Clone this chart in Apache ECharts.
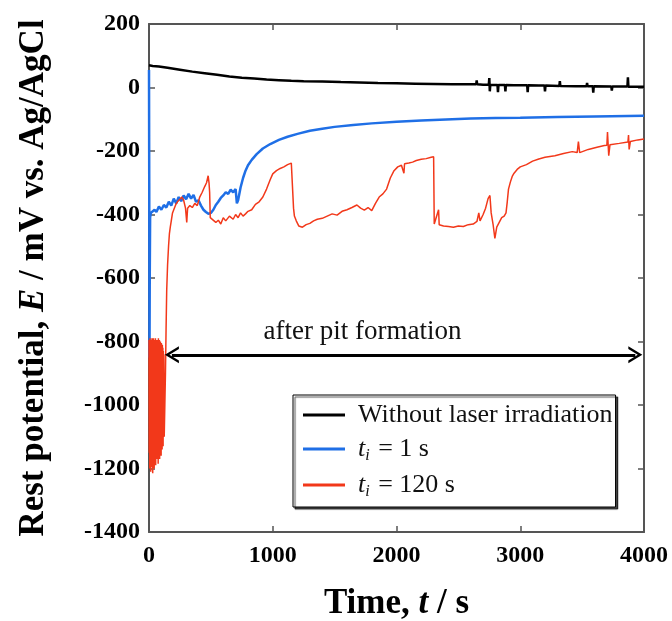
<!DOCTYPE html>
<html>
<head>
<meta charset="utf-8">
<script src="https://cdn.jsdelivr.net/npm/echarts@6/dist/echarts.min.js"></script>
<style>
  html, body { margin: 0; padding: 0; background: #fff; }
  #chart { width: 672px; height: 621px; }
</style>
</head>
<body>
<div id="chart"></div>
<script>
var xTicks = [0, 1000, 2000, 3000, 4000];
var yTicks = [-1400, -1200, -1000, -800, -600, -400, -200, 0, 200];

// [time s, potential mV]
var noLaser = [
    [0, 70], [30, 68], [80, 66], [150, 62], [250, 56], [350, 50], [450, 45], [550, 40],
    [650, 35], [750, 31], [850, 28], [950, 25], [1050, 23], [1150, 21], [1250, 20],
    [1400, 19], [1550, 17], [1700, 16], [1850, 14], [2000, 13], [2150, 12], [2300, 11],
    [2450, 10], [2600, 10], [2644, 10], [2648, 22], [2652, 10], [2700, 9], [2746, 9],
    [2750, 30], [2754, -12], [2758, 9], [2816, 8], [2820, -15], [2824, 8], [2876, 8],
    [2880, -12], [2884, 8], [2950, 7], [3056, 7], [3060, -15], [3064, 7], [3150, 6],
    [3196, 6], [3200, -12], [3204, 6], [3316, 5], [3320, 20], [3324, 5], [3450, 4],
    [3536, 4], [3540, 14], [3544, 4], [3586, 4], [3590, -16], [3594, 4], [3736, 3],
    [3740, -10], [3744, 3], [3866, 3], [3870, 32], [3874, 2], [3950, 2], [4000, 2]
];

var ti1 = [
    [0, 55], [2, -300], [4, -850], [6, -600], [9, -410], [15, -395], [30, -400], [45, -385],
    [60, -392], [80, -375], [100, -385], [120, -370], [140, -378], [160, -360], [180, -372],
    [200, -350], [220, -365], [240, -345], [260, -358], [280, -340], [300, -352], [320, -335],
    [340, -350], [360, -338], [380, -360], [400, -355], [420, -372], [440, -385], [460, -392],
    [480, -398], [500, -395], [520, -385], [540, -370], [560, -360], [580, -348], [600, -340],
    [620, -330], [640, -335], [660, -322], [680, -330], [700, -320], [710, -365], [720, -355],
    [740, -315], [760, -285], [780, -262], [800, -245], [830, -228], [870, -210], [920, -192],
    [980, -178], [1050, -165], [1120, -155], [1200, -146], [1300, -136], [1400, -130],
    [1500, -124], [1650, -118], [1800, -113], [2000, -108], [2200, -104], [2400, -101],
    [2600, -98], [2800, -96], [3000, -95], [3300, -93], [3600, -91], [4000, -89]
];

var ti120 = [
    [0, -795], [2, -1150], [4, -805], [6, -1200], [8, -790], [10, -1180], [12, -800],
    [14, -1210], [16, -795], [18, -1160], [20, -800], [22, -1195], [24, -790], [26, -1170],
    [28, -800], [30, -1215], [32, -795], [34, -1185], [36, -790], [38, -1160], [40, -805],
    [42, -1200], [44, -795], [46, -1175], [48, -800], [50, -1150], [52, -790], [54, -1190],
    [56, -805], [58, -1160], [60, -795], [62, -1140], [64, -800], [66, -1170], [68, -795],
    [70, -1150], [72, -800], [74, -1185], [76, -790], [78, -1160], [80, -800], [82, -1140],
    [84, -795], [86, -1170], [88, -805], [90, -1150], [92, -800], [94, -1130], [96, -810],
    [98, -1160], [100, -805], [102, -1120], [104, -815], [106, -1140], [108, -810],
    [110, -1110], [112, -820], [114, -1130], [116, -830], [118, -1100], [120, -840],
    [123, -1100], [128, -1000], [133, -900], [138, -760], [143, -640], [150, -560],
    [158, -500], [165, -460], [172, -440], [180, -420], [190, -395], [200, -385], [215, -370],
    [230, -360], [250, -352], [265, -345], [280, -355], [295, -380], [305, -425], [312, -380],
    [330, -372], [350, -378], [370, -365], [390, -372], [410, -345], [430, -330], [450, -312],
    [465, -300], [478, -278], [485, -300], [490, -330], [495, -410], [510, -415], [540, -425],
    [560, -418], [580, -430], [600, -410], [620, -420], [650, -405], [680, -415], [700, -400],
    [720, -410], [740, -395], [760, -405], [780, -398], [800, -390], [830, -385], [860, -368],
    [890, -360], [920, -345], [950, -320], [980, -290], [1000, -272], [1030, -262],
    [1060, -255], [1090, -250], [1120, -243], [1150, -238], [1163, -235], [1168, -380],
    [1175, -405], [1190, -420], [1210, -436], [1240, -440], [1270, -432], [1300, -428],
    [1330, -420], [1360, -415], [1400, -412], [1440, -405], [1480, -398], [1520, -402],
    [1560, -390], [1600, -385], [1640, -378], [1680, -370], [1710, -380], [1740, -386],
    [1770, -378], [1800, -388], [1830, -365], [1860, -345], [1890, -335], [1920, -320],
    [1950, -285], [1980, -262], [2010, -250], [2040, -245], [2060, -270], [2065, -240],
    [2100, -238], [2130, -235], [2160, -230], [2200, -226], [2240, -224], [2280, -220],
    [2300, -218], [2305, -430], [2320, -432], [2340, -385], [2345, -432], [2380, -436],
    [2420, -438], [2460, -440], [2500, -436], [2540, -438], [2580, -432], [2620, -430],
    [2650, -422], [2665, -395], [2675, -420], [2700, -400], [2720, -380], [2740, -350],
    [2755, -340], [2765, -395], [2780, -430], [2795, -475], [2810, -440], [2830, -425],
    [2850, -410], [2870, -405], [2885, -395], [2895, -360], [2905, -320], [2920, -298],
    [2935, -280], [2950, -270], [2975, -258], [3000, -250], [3050, -243], [3100, -232],
    [3150, -225], [3200, -220], [3280, -215], [3350, -208], [3420, -202], [3460, -205],
    [3470, -170], [3480, -205], [3550, -195], [3620, -188], [3680, -183], [3700, -182],
    [3705, -140], [3715, -215], [3725, -180], [3800, -176], [3870, -172], [3875, -150],
    [3880, -195], [3890, -170], [3950, -165], [4000, -162]
];

var arrowSpan = [185, 3930];
var arrowLevel = -842;
var noteAt = [1725, -771];

var serif = "'Liberation Serif', 'DejaVu Serif', serif";
var frame = '#555';
var chevron = 'path://M5,0 L10,8 L8.4,8 L5,2.6 L1.6,8 L0,8 Z';

var chart = echarts.init(document.getElementById('chart'));

var names = ['Without laser irradiation', 't1', 't120'];
var legendText = {
    't1': '{it|t}{sub|i}{n| = 1 s}',
    't120': '{it|t}{sub|i}{n| = 120 s}'
};

function tickAxis(extra) {
    return Object.assign({
        type: 'value',
        axisLine: { show: true, onZero: false, lineStyle: { color: frame, width: 2 } },
        axisTick: { show: true, inside: true, length: 6, lineStyle: { color: frame, width: 1.5 } },
        splitLine: { show: false }
    }, extra);
}

var option = {
    animation: false,
    backgroundColor: '#fff',
    grid: { left: 149, right: 28, top: 24, bottom: 89, outerBoundsMode: 'none', containLabel: false },
    legend: {
        data: names,
        orient: 'vertical',
        left: 293,
        top: 395,
        padding: [7, 3, 7, 10],
        itemGap: 8,
        itemWidth: 42,
        itemHeight: 3,
        icon: 'rect',
        backgroundColor: '#fff',
        borderColor: '#000',
        borderWidth: 1,
        shadowColor: 'rgba(0,0,0,0.7)',
        shadowOffsetX: 2,
        shadowOffsetY: 2,
        shadowBlur: 1,
        selectedMode: false,
        formatter: function(name) {
            return legendText[name] || '{n|' + name + '}';
        },
        textStyle: {
            fontFamily: serif,
            fontSize: 26,
            color: '#111',
            padding: [0, 0, 0, 8],
            rich: {
                n: { fontFamily: serif, fontSize: 26, color: '#111' },
                it: { fontFamily: serif, fontSize: 26, fontStyle: 'italic', color: '#111' },
                sub: { fontFamily: serif, fontSize: 16, fontStyle: 'italic', color: '#111', padding: [14, 2, 0, 0] }
            }
        }
    },
    xAxis: [
        tickAxis({
            min: 0, max: 4000, interval: 1000,
            name: 'Time, {i|t} / s',
            nameLocation: 'middle',
            nameGap: 54,
            nameTextStyle: {
                fontFamily: serif, fontSize: 35, fontWeight: 'bold', color: '#000',
                rich: { i: { fontFamily: serif, fontSize: 35, fontWeight: 'bold', fontStyle: 'italic', color: '#000' } }
            },
            axisLabel: {
                margin: 12,
                fontFamily: serif, fontSize: 24, fontWeight: 'bold', color: '#000',
                formatter: function(v) { return xTicks.indexOf(v) >= 0 ? String(v) : ''; }
            }
        }),
        tickAxis({ position: 'top', min: 0, max: 4000, interval: 1000, axisLabel: { show: false } })
    ],
    yAxis: [
        tickAxis({
            min: -1400, max: 200, interval: 200,
            name: 'Rest potential, {i|E} / mV vs. Ag/AgCl',
            nameLocation: 'middle',
            nameGap: 98,
            nameRotate: 90,
            nameTextStyle: {
                fontFamily: serif, fontSize: 35, fontWeight: 'bold', color: '#000',
                rich: { i: { fontFamily: serif, fontSize: 35, fontWeight: 'bold', fontStyle: 'italic', color: '#000' } }
            },
            axisLabel: {
                margin: 9,
                fontFamily: serif, fontSize: 24, fontWeight: 'bold', color: '#000',
                formatter: function(v) { return yTicks.indexOf(v) >= 0 ? String(v) : ''; }
            }
        }),
        tickAxis({ position: 'right', min: -1400, max: 200, interval: 200, axisLabel: { show: false } })
    ],
    series: [
        {
            name: 'Without laser irradiation',
            type: 'line',
            data: noLaser,
            showSymbol: false,
            color: '#000',
            lineStyle: { width: 2.5, color: '#000' },
            z: 3
        },
        {
            name: 't1',
            type: 'line',
            data: ti1,
            showSymbol: false,
            color: '#1f6fe6',
            lineStyle: { width: 2.5, color: '#1f6fe6' },
            z: 2
        },
        {
            name: 't120',
            type: 'line',
            data: ti120,
            showSymbol: false,
            color: '#f2381a',
            lineStyle: { width: 1.5, color: '#f2381a' },
            z: 2,
            markLine: {
                silent: true,
                symbol: [chevron, chevron],
                symbolSize: [17, 14],
                lineStyle: { color: '#000', width: 3, type: 'solid' },
                label: { show: false },
                data: [[
                    { coord: [arrowSpan[0], arrowLevel] },
                    { coord: [arrowSpan[1], arrowLevel] }
                ]]
            },
            markPoint: {
                silent: true,
                symbol: 'circle',
                symbolSize: 0,
                label: {
                    show: true,
                    position: 'inside',
                    formatter: 'after pit formation',
                    fontFamily: serif,
                    fontSize: 27,
                    color: '#111'
                },
                data: [{ coord: noteAt }]
            }
        }
    ]
};

chart.setOption(option);
</script>
</body>
</html>
